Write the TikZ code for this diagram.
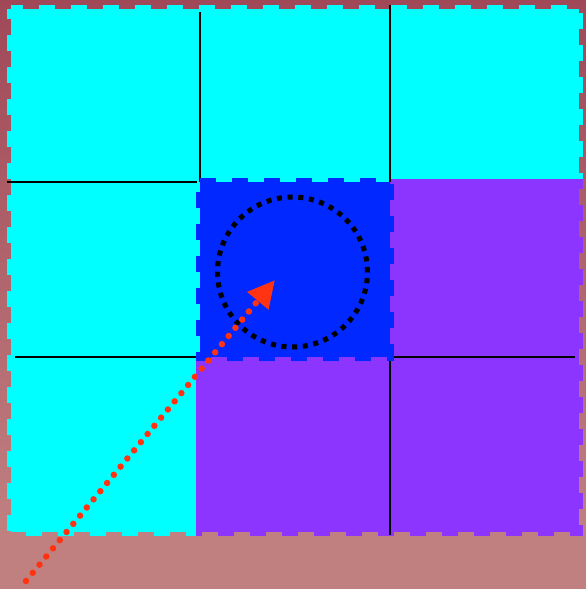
\documentclass[tikz,border=0pt]{standalone}
\usetikzlibrary{arrows.meta}
\definecolor{bgtop}{HTML}{A04858}
\definecolor{bgbot}{HTML}{C08080}
\definecolor{cellcyan}{HTML}{00FFFF}
\definecolor{cellblue}{HTML}{0028FF}
\definecolor{cellpurple}{HTML}{8C35FF}
\definecolor{arrowred}{HTML}{FF3311}
\begin{document}
\begin{tikzpicture}[x=1pt,y=-1pt,
  celledge/.style={line width=8pt, dash pattern=on 16pt off 16pt},
  gridline/.style={line width=2.4pt, black},
  ring/.style={line width=5pt, dash pattern=on 5pt off 5.7pt, black},
  pointer/.style={arrowred, line width=6.5pt, line cap=round, dash pattern=on 0pt off 10.6pt, -{Triangle[length=27pt,width=26pt]}}]
\useasboundingbox (0,0) rectangle (586,589);
% background
\shade[top color=bgtop, bottom color=bgbot] (0,0) rectangle (586,535);
\fill[bgbot] (0,534) rectangle (586,589);
% outer cyan area
\coordinate (tl) at (11,9);
\coordinate (tr) at (579,9);
\coordinate (br) at (579,532);
\coordinate (bl) at (11,532);
\fill[cellcyan] (tl) rectangle (br);
\draw[cellcyan, celledge, dash phase=4pt] (tl) -- (tr) -- (br) -- (bl) -- cycle;
% purple cells
\fill[cellpurple] (390,179) rectangle (579,357);
\fill[cellpurple] (196,357) rectangle (579,532);
\begin{scope}
  \clip (390,179) -- (590,179) -- (590,589) -- (196,589) -- (196,357) -- (390,357) -- cycle;
  \draw[cellpurple, celledge, dash phase=4pt] (tl) -- (tr) -- (br) -- (bl) -- cycle;
\end{scope}
% grid lines
\coordinate (v1a) at (200,12);  \coordinate (v1b) at (200,182);
\coordinate (v2a) at (390,5);   \coordinate (v2b) at (390,182);
\coordinate (h1a) at (7,182);   \coordinate (h1b) at (197,182);
\coordinate (h2a) at (15,357);  \coordinate (h2b) at (197,357);
\coordinate (h3a) at (390,357); \coordinate (h3b) at (575,357);
\coordinate (v3a) at (390,357); \coordinate (v3b) at (390,535);
\draw[gridline] (v1a) -- (v1b);
\draw[gridline] (v2a) -- (v2b);
\draw[gridline] (h1a) -- (h1b);
\draw[gridline] (h2a) -- (h2b);
\draw[gridline] (h3a) -- (h3b);
\draw[gridline] (v3a) -- (v3b);
% blue centre cell
\coordinate (ctl) at (200,182);
\coordinate (ctr) at (390,182);
\coordinate (cbr) at (390,357);
\coordinate (cbl) at (200,357);
\fill[cellblue] (ctl) rectangle (cbr);
\draw[cellblue, celledge] (ctl) -- (ctr) -- (cbr) -- (cbl) -- cycle;
% dotted circle
\node[circle, draw, ring, minimum size=150pt, inner sep=0pt] (target) at (292.5,272) {};
% red arrow
\coordinate (start) at (26,581);
\coordinate (tip) at (275,280);
\draw[pointer] (start) -- (tip);
\end{tikzpicture}
\end{document}
